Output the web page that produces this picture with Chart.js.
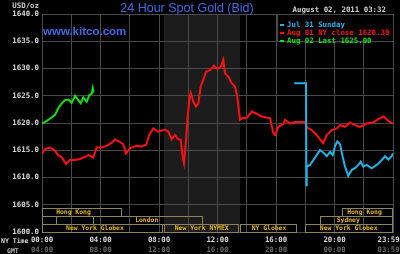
<!DOCTYPE html>
<html><head><meta charset="utf-8">
<script src="https://cdn.jsdelivr.net/npm/chart.js@4.4.1/dist/chart.umd.min.js"></script>
<style>html,body{margin:0;padding:0;background:#000;}canvas{display:block;}</style>
</head><body>
<canvas id="c" width="400" height="254"></canvas>
<script>
// ---- data (hours in New York time, price USD/oz) ----
const yTicks = [1600,1605,1610,1615,1620,1625,1630,1635,1640];
const nyTickLabels = {0:'00:00',4:'04:00',8:'08:00',12:'12:00',16:'16:00',20:'20:00',24:'23:59  '};
const gmtTickLabels = {0:'04:00',4:'08:00',8:'12:00',12:'16:00',16:'20:00',20:'00:00',24:'03:59  '};

const sundayHours  = [17.25,17.98,18.05,18.08,18.10,18.32,18.55,18.78,19.01,19.23,19.47,19.69,19.88,20.03,20.19,20.38,20.56,20.72,20.94,21.18,21.40,21.63,21.79,21.97,22.20,22.54,22.89,23.23,23.45,23.68,23.91,24.0];
const sundayPrices = [1627.3,1627.3,1627.3,1608.6,1612.0,1612.3,1613.2,1614.1,1615.0,1614.6,1613.9,1614.7,1614.1,1615.7,1616.6,1616.1,1613.8,1612.0,1610.3,1611.4,1611.7,1612.3,1612.9,1612.0,1612.3,1611.7,1612.3,1613.2,1613.9,1613.3,1613.9,1614.4];

const closeHours  = [0,0.21,0.55,0.89,1.11,1.35,1.64,1.91,2.26,2.60,2.94,3.17,3.51,3.74,4.08,4.42,4.77,4.99,5.29,5.56,5.74,6.02,6.48,6.82,7.11,7.34,7.61,7.95,8.29,8.41,8.64,8.87,9.09,9.32,9.48,9.62,9.71,9.85,9.94,10.07,10.17,10.35,10.53,10.69,10.85,11.03,11.21,11.49,11.76,11.99,12.22,12.40,12.51,12.74,12.97,13.20,13.35,13.54,13.72,14.00,14.34,14.68,15.02,15.36,15.59,15.82,15.93,16.16,16.50,16.62,16.96,17.30,17.98,18.10,18.44,18.78,19.12,19.23,19.47,19.81,20.15,20.38,20.72,21.06,21.40,21.74,22.20,22.65,22.99,23.34,23.68,24.0];
const closePrices = [1614.4,1615.2,1615.5,1614.9,1614.1,1613.7,1612.5,1613.2,1613.2,1613.4,1613.8,1614.1,1613.7,1615.5,1615.5,1615.8,1616.4,1617.0,1616.6,1616.1,1614.4,1615.4,1615.8,1615.7,1616.0,1617.8,1619.0,1618.4,1618.7,1618.8,1618.4,1617.0,1617.8,1617.0,1616.9,1613.8,1612.6,1616.9,1620.6,1624.2,1625.5,1623.9,1623.0,1623.6,1626.7,1627.9,1629.4,1629.7,1630.5,1629.9,1630.3,1631.6,1629.1,1628.5,1627.3,1626.7,1624.8,1620.6,1620.9,1620.9,1622.1,1621.7,1621.2,1621.0,1620.9,1618.1,1617.8,1619.3,1619.8,1620.6,1619.9,1620.2,1620.2,1619.2,1618.7,1617.8,1616.6,1616.3,1617.8,1618.7,1619.0,1619.6,1619.3,1620.1,1619.6,1619.3,1619.9,1620.1,1620.7,1621.2,1620.4,1619.9];

const lastHours  = [0,0.32,0.66,0.89,1.11,1.35,1.57,1.80,2.03,2.26,2.48,2.65,2.82,3.06,3.23,3.40,3.47,3.53];
const lastPrices = [1619.9,1620.4,1621.0,1621.5,1622.7,1623.6,1624.2,1624.3,1623.7,1625.0,1624.2,1623.6,1624.7,1623.9,1625.1,1625.4,1626.4,1625.6];

const seriesLabels = ['Jul 31 Sunday','Aug 01 NY close 1620.30','Aug 02 Last 1625.00'];

// market sessions (row 0 = New York, 1 = London/Sydney, 2 = Hong Kong)
const sessionNames  = ['Hong Kong','','London','New York Globex','New York NYMEX','NY Globex','New York Globex','Sydney','Hong Kong'];
const sessionRows   = [2,1,1,0,0,0,0,1,2];
const sessionStarts = [0,0,3.5,0,8.35,13.55,18.0,19.0,20.5];
const sessionEnds   = [5.5,1.0,11.0,8.3,13.45,17.42,24,24,24];
const sessionLabelAt= [2.15,0.5,7.16,3.62,10.92,15.52,20.97,20.94,22.05];
const nymexShade = [8.33,13.55];

const titleText = '24 Hour Spot Gold (Bid)';
const dateText = 'August 02, 2011 03:32';

// ---- styles ----
const gridColor = '#4a4a4a';
const mono = "'DejaVu Sans Mono', monospace";
const tickFont = {family: mono, size: 7.4, weight: 'bold'};
const colors = ['#1eb4e6', '#ff1010', '#10e010'];

const toPts = (xs, ys) => xs.map((h, i) => ({x: h, y: ys[i]}));

const decor = {
  id: 'decor',
  beforeDraw(chart) {
    const {ctx, chartArea: a, scales: {x}} = chart;
    ctx.save();
    ctx.fillStyle = '#000';
    ctx.fillRect(0, 0, chart.width, chart.height);
    ctx.fillStyle = '#1c1c1c';
    const x0 = x.getPixelForValue(nymexShade[0]), x1 = x.getPixelForValue(nymexShade[1]);
    ctx.fillRect(x0, a.top, x1 - x0, a.bottom - a.top);
    ctx.restore();
  },
  afterDraw(chart) {
    const {ctx, chartArea: a, scales: {x, y}} = chart;
    ctx.save();
    // title
    ctx.fillStyle = '#4169e1';
    ctx.font = "12.5px 'Liberation Sans', Arial, sans-serif";
    ctx.textAlign = 'center'; ctx.textBaseline = 'alphabetic';
    ctx.fillText(titleText, 187, 11.5);
    ctx.font = "bold 11.5px 'Liberation Sans', Arial, sans-serif";
    ctx.textAlign = 'left';
    ctx.fillText('www.kitco.com', 43, 35);
    // date
    ctx.font = "bold 7.4px " + mono;
    ctx.fillStyle = '#d0d0d0';
    ctx.fillText(dateText, 292.5, 12);
    // unit
    ctx.textAlign = 'right';
    ctx.fillText('USD/oz', 39, 8);
    // axis row captions
    ctx.font = "bold 6.5px " + mono;
    ctx.textAlign = 'left';
    ctx.fillStyle = '#d8d8d8';
    ctx.fillText('NY Time', 1, 243);
    ctx.fillStyle = '#bbbbbb';
    ctx.fillText('GMT', 7, 253);
    // legend box
    const lx = a.right - 116, ly = a.top, lb = y.getPixelForValue(1635);
    ctx.fillStyle = '#000';
    ctx.fillRect(lx, ly + 0.5, a.right - lx - 0.5, lb - ly - 1);
    ctx.strokeStyle = gridColor; ctx.lineWidth = 1;
    ctx.strokeRect(Math.round(lx) + 0.5, Math.round(ly) + 0.5, a.right - Math.round(lx), Math.round(lb) - Math.round(ly));
    ctx.font = "bold 7.4px " + mono;
    chart.data.datasets.forEach((ds, i) => {
      const by = ly + 7 + i * 8;
      ctx.fillStyle = ds.borderColor;
      ctx.fillRect(lx + 3, by + 3, 4, 2);
      ctx.fillText(ds.label, lx + 10, by + 5.8);
    });
    // sessions
    ctx.font = "bold 6.4px " + mono;
    ctx.textAlign = 'center'; ctx.textBaseline = 'middle';
    sessionNames.forEach((name, i) => {
      const bx0 = Math.round(x.getPixelForValue(sessionStarts[i]));
      const bx1 = Math.round(x.getPixelForValue(sessionEnds[i]));
      const byb = Math.round(a.bottom) - 8 * sessionRows[i];
      const byt = byb - 8;
      ctx.strokeStyle = '#8a845a';
      ctx.strokeRect(bx0 + 0.5, byt + 0.5, bx1 - bx0 - 1, 8);
      if (name) {
        ctx.fillStyle = '#e6b51e';
        ctx.fillText(name, x.getPixelForValue(sessionLabelAt[i]), byt + 4.8);
      }
    });
    ctx.restore();
  }
};

new Chart(document.getElementById('c'), {
  type: 'line',
  data: {
    datasets: [
      {label: seriesLabels[0], data: toPts(sundayHours, sundayPrices), borderColor: colors[0]},
      {label: seriesLabels[1], data: toPts(closeHours, closePrices), borderColor: colors[1]},
      {label: seriesLabels[2], data: toPts(lastHours, lastPrices), borderColor: colors[2]}
    ]
  },
  options: {
    responsive: false,
    animation: false,
    parsing: true,
    elements: {point: {radius: 0}, line: {borderWidth: 2, tension: 0}},
    layout: {padding: {top: 14, right: 7, left: 0, bottom: 0}},
    plugins: {legend: {display: false}, tooltip: {enabled: false}, title: {display: false}},
    scales: {
      x: {
        type: 'linear', position: 'bottom', min: 0, max: 24,
        grid: {color: gridColor, drawTicks: false, lineWidth: 1},
        border: {color: gridColor},
        ticks: {stepSize: 2, autoSkip: false, maxRotation: 0, padding: 4, font: tickFont, color: '#d8d8d8',
          callback: v => (nyTickLabels[v] !== undefined ? nyTickLabels[v] : '')},
        afterFit(s) { s.height = 11; s.paddingLeft = 0; s.paddingRight = 0; }
      },
      x2: {
        type: 'linear', position: 'bottom', min: 0, max: 24,
        grid: {display: false, drawTicks: false},
        border: {display: false},
        ticks: {stepSize: 4, autoSkip: false, maxRotation: 0, padding: 3, font: tickFont, color: '#6a6a6a',
          callback: v => (gmtTickLabels[v] !== undefined ? gmtTickLabels[v] : '')},
        afterFit(s) { s.height = 11; s.paddingLeft = 0; s.paddingRight = 0; }
      },
      y: {
        min: yTicks[0], max: yTicks[yTicks.length - 1],
        grid: {color: gridColor, drawTicks: false},
        border: {color: gridColor},
        afterBuildTicks(s) { s.ticks = yTicks.map(v => ({value: v})); },
        ticks: {padding: 3, font: tickFont, color: '#d8d8d8', callback: v => Number(v).toFixed(1)},
        afterFit(s) { s.width = 42; }
      }
    }
  },
  plugins: [decor]
});
</script>
</body></html>
